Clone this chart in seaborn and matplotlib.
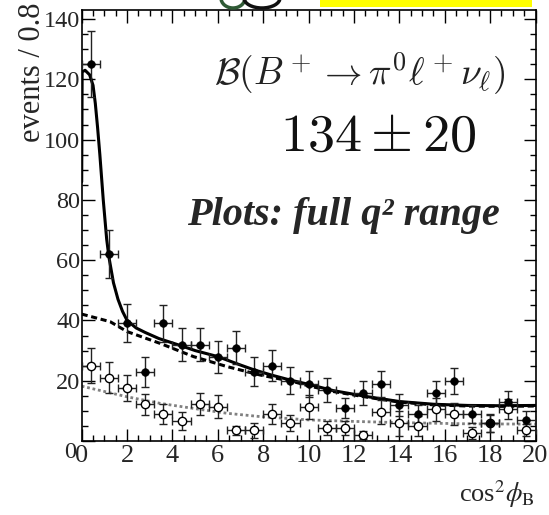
import numpy as np
import pandas as pd
import seaborn as sns
import matplotlib.pyplot as plt
from matplotlib.ticker import MultipleLocator
from matplotlib.patches import Rectangle, Ellipse
from matplotlib.transforms import ScaledTranslation

# ---------------- data ----------------
bin_centers = [0.4, 1.2, 2.0, 2.8, 3.6, 4.4, 5.2, 6.0, 6.8, 7.6, 8.4, 9.2, 10.0,
               10.8, 11.6, 12.4, 13.2, 14.0, 14.8, 15.6, 16.4, 17.2, 18.0, 18.8, 19.6]
bin_halfwidth = 0.4

data_y = [125, 62, 39, 23, 39, 32, 32, 28, 31, 23, 25, 20, 19,
          17, 11, 16, 19, 12, 9, 16, 20, 9, 6, 13, 7]
data_err = [11, 8, 6.3, 5, 6, 5.6, 5.6, 5.3, 5.5, 4.8, 5.1, 4.4, 4.3,
            4, 3.4, 4, 4.3, 3.6, 3, 4, 4.3, 3, 3, 3.5, 3]

open_y = [25, 21, 17.5, 12.2, 9, 6.6, 12.2, 11.4, 3.5, 3.5, 9, 5.9, 11.3,
          4.4, 4.4, 2.0, 9.7, 5.9, 5.1, 10.5, 8.9, 2.8, 5.9, 10.5, 3.6]
open_err = [5.8, 5.1, 4.3, 3.5, 3.2, 3, 3.6, 3.7, 1.5, 2.4, 3.4, 2.7, 4.1,
            2.3, 2.3, 1.4, 4, 4.1, 3.3, 3.9, 3.6, 2, 2.8, 3.3, 2]

fit_total_x = [0.0, 0.02, 0.15, 0.35, 0.5, 0.6, 0.7, 0.8, 0.95, 1.1, 1.2, 1.4, 1.6,
               1.8, 2.0, 2.4, 2.8, 3.4, 4.3, 5.0, 6.0, 7.0, 7.6, 8.4, 9.2, 10.0,
               11.1, 12.6, 14.0, 15.5, 17.0, 18.5, 20.0]
fit_total_y = [86, 122.5, 123, 121.5, 118, 112, 104, 95, 80, 67, 61, 52.5, 47,
               43, 40, 37.5, 36, 34, 31.8, 30, 28, 25.2, 23.6, 21.8, 20.2, 18.8,
               16.7, 14.7, 13.1, 12.2, 11.8, 11.7, 11.8]

fit_bkg_x = [0, 1.25, 2.0, 3.45, 4.93, 6.4, 7.86, 9.33, 10.0, 11.1, 12.6, 14.0,
             15.5, 17.0, 18.5, 20.0]
fit_bkg_y = [42.1, 39.6, 36.3, 32.4, 28.0, 24.7, 21.9, 19.7, 18.3, 16.4, 14.5, 12.9,
             12.0, 11.6, 11.5, 11.6]

fit_open_x = [0, 1.98, 3.45, 4.93, 6.4, 7.86, 10.0, 12.0, 14.0, 17.0, 20.0]
fit_open_y = [18.2, 14.7, 12.5, 10.8, 9.2, 8.1, 7.0, 6.5, 6.1, 5.7, 5.6]

x_ticks = [0, 2, 4, 6, 8, 10, 12, 14, 16, 18, 20]
y_ticks = [0, 20, 40, 60, 80, 100, 120, 140]

# ---------------- style ----------------
sns.set_style("ticks")
plt.rcParams['font.family'] = ['Liberation Serif', 'DejaVu Serif']
plt.rcParams['mathtext.fontset'] = 'stix'

W, H = 549, 515
fig = plt.figure(figsize=(W / 100, H / 100), dpi=100)
fig.patch.set_facecolor('white')
ax = fig.add_axes([81.7 / W, 1 - 441 / H, (535.5 - 81.7) / W, (441 - 10) / H])

df_data = pd.DataFrame({'x': bin_centers, 'y': data_y, 'err': data_err})
df_open = pd.DataFrame({'x': bin_centers, 'y': open_y, 'err': open_err})

# curves
sns.lineplot(x=fit_open_x, y=fit_open_y, ax=ax, color='#808080', lw=2.0,
             linestyle=(0, (1, 1)), sort=False, estimator=None, zorder=2)
sns.lineplot(x=fit_bkg_x, y=fit_bkg_y, ax=ax, color='black', lw=2.2,
             linestyle=(0, (2, 1.2)), sort=False, estimator=None, zorder=2)
sns.lineplot(x=fit_total_x, y=fit_total_y, ax=ax, color='black', lw=2.2,
             sort=False, estimator=None, zorder=3)

# error bars
ax.errorbar(df_open['x'], df_open['y'], xerr=bin_halfwidth, yerr=df_open['err'],
            fmt='none', ecolor='#222222', elinewidth=1.0, capsize=3, capthick=1.0, zorder=4)
ax.errorbar(df_data['x'], df_data['y'], xerr=bin_halfwidth, yerr=df_data['err'],
            fmt='none', ecolor='#222222', elinewidth=1.0, capsize=3, capthick=1.0, zorder=4)

# markers
sns.scatterplot(data=df_open, x='x', y='y', ax=ax, marker='o', s=36,
                facecolor='white', edgecolor='black', linewidth=1.0, zorder=5)
sns.scatterplot(data=df_data, x='x', y='y', ax=ax, marker='o', s=30,
                color='black', edgecolor='black', linewidth=0.5, zorder=6)

ax.set_xlim(0, 20)
ax.set_ylim(0, 143)
ax.set_xticks(x_ticks)
ax.set_yticks(y_ticks)
ax.xaxis.set_minor_locator(MultipleLocator(0.5))
ax.yaxis.set_minor_locator(MultipleLocator(5))
ax.tick_params(which='both', direction='in', top=True, right=True, width=1.0,
               color='black')
ax.tick_params(which='major', length=9)
ax.tick_params(which='minor', length=4.5)
ax.tick_params(axis='x', pad=3, labelsize=19)
ax.tick_params(axis='y', pad=1, labelsize=17.5)
for s in ax.spines.values():
    s.set_linewidth(1.2)
    s.set_color('black')
ax.set_xlabel('')
ax.set_ylabel('')

# ROOT-style: the y-axis "0" sits a little lower-left of the x-axis "0"
fig.canvas.draw()
ylab0 = ax.get_yticklabels()[0]
ylab0.set_transform(ylab0.get_transform() + ScaledTranslation(-4 / 100, -9 / 100, fig.dpi_scale_trans))

# axis titles
fig.text(535 / W, 1 - 494 / H, r'cos$^2\phi_\mathrm{B}$', ha='right', va='center', fontsize=19)
fig.text(32 / W, 1 - 3 / H, 'events / 0.8', rotation=90, ha='center', va='top', fontsize=22)

# annotations
fig.text(505 / W, 1 - 74 / H, r'$\mathcal{B}(B^+ \rightarrow \pi^0 \ell^+ \nu_\ell)$',
         ha='right', va='center', fontsize=27, math_fontfamily='cm', color='#222222')
fig.text(476 / W, 1 - 137 / H, r'$134 \pm 20$', ha='right', va='center', fontsize=39,
         math_fontfamily='cm', color='#111111')
fig.text(500 / W, 1 - 216 / H, 'Plots: full q\u00b2 range', ha='right', va='center',
         fontsize=29, fontweight='bold', fontstyle='italic')

# fragments at the top edge (yellow box and logo piece)
fig.patches.append(Rectangle((320 / W, 1 - 7 / H), (532 - 320) / W, 7 / H,
                             transform=fig.transFigure, facecolor='#ffff00',
                             edgecolor='none', zorder=10))
fig.patches.append(Ellipse((233 / W, 1 + 2 / H), 24 / W, 20 / H, transform=fig.transFigure,
                           facecolor='none', edgecolor='#2f5a35', lw=2.5, zorder=10))
fig.patches.append(Ellipse((262 / W, 1 + 2 / H), 36 / W, 20 / H, transform=fig.transFigure,
                           facecolor='none', edgecolor='#111111', lw=2.5, zorder=10))

fig.savefig('out.png', dpi=100)
